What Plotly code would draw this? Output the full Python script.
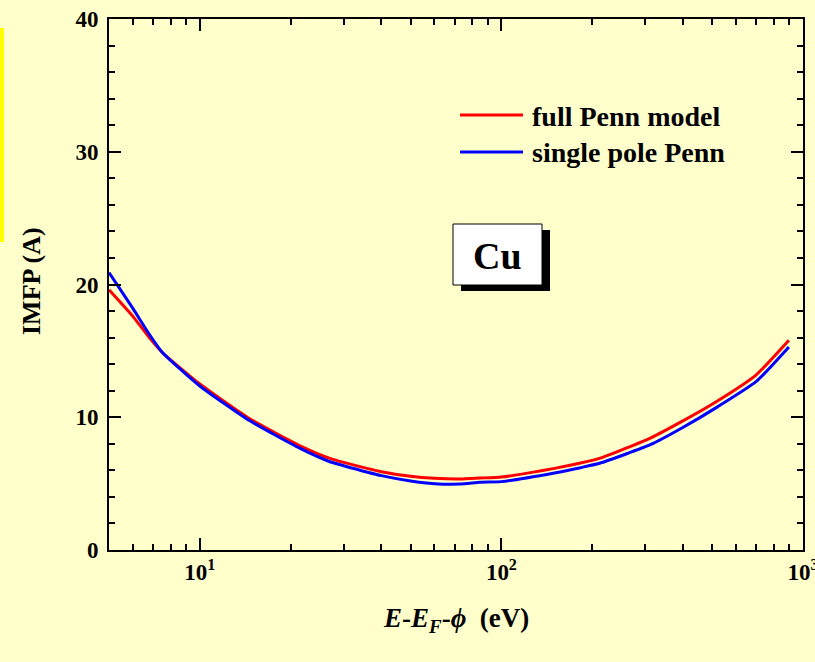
import plotly.graph_objects as go

# Inelastic mean free path of Cu vs. electron energy above vacuum level
energy_ev = [5, 6, 6.8, 7.5, 10, 14.6, 21.5, 27, 30, 40, 50, 60, 73, 85, 100,
             150, 183, 213, 313, 394, 522, 700, 898]
imfp_full_penn = [19.6, 17.6, 16.0, 14.9, 12.5, 9.9, 7.85, 6.9, 6.6, 5.9, 5.55,
                  5.4, 5.35, 5.42, 5.5, 6.15, 6.55, 6.92, 8.45, 9.65, 11.25,
                  13.2, 15.8]
imfp_single_pole = [20.9, 18.2, 16.25, 14.9, 12.35, 9.75, 7.65, 6.65, 6.35, 5.6,
                    5.2, 5.0, 4.97, 5.1, 5.15, 5.8, 6.2, 6.55, 7.95, 9.15, 10.8,
                    12.7, 15.3]

series_names = ["full Penn model", "single pole Penn"]
series_colors = ["#ff0000", "#0000ff"]

x_tickvals = [10, 100, 1000]
x_ticktext = ["10<sup>1</sup>", "10<sup>2</sup>", "10<sup>3</sup>"]
y_tickvals = [0, 10, 20, 30, 40]

FONT = "Liberation Serif, Times New Roman, serif"
BG = "#ffffcc"

fig = go.Figure()
for name, color, ys in zip(series_names, series_colors,
                           [imfp_full_penn, imfp_single_pole]):
    fig.add_trace(go.Scatter(
        x=energy_ev, y=ys, mode="lines", name=name,
        line=dict(color=color, width=3, shape="spline", smoothing=0.5),
        showlegend=False,
    ))

# plot-area geometry (pixels) used to place legend and label box
W, H = 815, 662
ML, MR, MT, MB = 109, 12, 19, 112
PW, PH = W - ML - MR, H - MT - MB


def px(xp):
    return (xp - ML) / PW


def py(yp):
    return (H - MB - yp) / PH


shapes = []
annotations = []

# legend drawn as line samples with bold labels
for i, (name, color) in enumerate(zip(series_names, series_colors)):
    yl = 115 + 37 * i
    shapes.append(dict(type="line", xref="paper", yref="paper",
                       x0=px(460), x1=px(523), y0=py(yl), y1=py(yl),
                       line=dict(color=color, width=3)))
    annotations.append(dict(xref="paper", yref="paper", x=px(530), y=py(yl + 1),
                            xanchor="left", yanchor="middle", showarrow=False,
                            text=f"<b>{name}</b>",
                            font=dict(family=FONT, size=28, color="black")))

# element label box with drop shadow
shapes.append(dict(type="rect", xref="paper", yref="paper",
                   x0=px(461), x1=px(550), y0=py(230), y1=py(291),
                   fillcolor="black", line=dict(width=0), layer="above"))
shapes.append(dict(type="rect", xref="paper", yref="paper",
                   x0=px(453), x1=px(542), y0=py(224), y1=py(285),
                   fillcolor="white", line=dict(color="black", width=1),
                   layer="above"))
annotations.append(dict(xref="paper", yref="paper", x=px(497.5), y=py(256),
                        xanchor="center", yanchor="middle", showarrow=False,
                        text="<b>Cu</b>",
                        font=dict(family=FONT, size=38, color="black")))

# bright side strip on the page
shapes.append(dict(type="rect", xref="paper", yref="paper",
                   x0=px(0), x1=px(4), y0=py(28), y1=py(242),
                   fillcolor="#ffff00", line=dict(width=0), layer="below"))

# axis titles
annotations.append(dict(xref="paper", yref="paper", x=px(456), y=py(620),
                        xanchor="center", yanchor="middle", showarrow=False,
                        text="<b><i>E</i>-<i>E<sub>F</sub></i>-<i>ϕ</i>  (eV)</b>",
                        font=dict(family=FONT, size=27, color="black")))
annotations.append(dict(xref="paper", yref="paper", x=px(31), y=py(281),
                        xanchor="center", yanchor="middle", showarrow=False,
                        textangle=-90, text="<b>IMFP (A)</b>",
                        font=dict(family=FONT, size=26, color="black")))

fig.update_layout(
    width=W, height=H,
    margin=dict(l=ML, r=MR, t=MT, b=MB, autoexpand=False),
    paper_bgcolor=BG, plot_bgcolor=BG,
    font=dict(family=FONT, size=22, color="black"),
    shapes=shapes, annotations=annotations,
    showlegend=False,
)

fig.update_xaxes(
    type="log", range=[0.69897, 3], showgrid=False, zeroline=False,
    automargin=False, ticklabeloverflow="allow",
    showline=True, linecolor="black", linewidth=2, mirror="ticks",
    ticks="inside", ticklen=12, tickwidth=1.5, tickcolor="black",
    tickvals=x_tickvals, ticktext=x_ticktext,
    tickfont=dict(family=FONT, size=23, color="black", weight="bold"),
    minor=dict(ticks="inside", ticklen=6, tickwidth=1.5, tickcolor="black",
               dtick="D1", showgrid=False),
)
fig.update_yaxes(
    range=[0, 40], showgrid=False, zeroline=False, automargin=False,
    ticklabeloverflow="allow",
    showline=True, linecolor="black", linewidth=2, mirror="ticks",
    ticks="inside", ticklen=12, tickwidth=1.5, tickcolor="black",
    tickvals=y_tickvals,
    tickfont=dict(family=FONT, size=23, color="black", weight="bold"),
    ticklabelstandoff=4,
    minor=dict(ticks="inside", ticklen=6, tickwidth=1.5, tickcolor="black",
               dtick=2, showgrid=False),
)

fig.write_html("out.html")
